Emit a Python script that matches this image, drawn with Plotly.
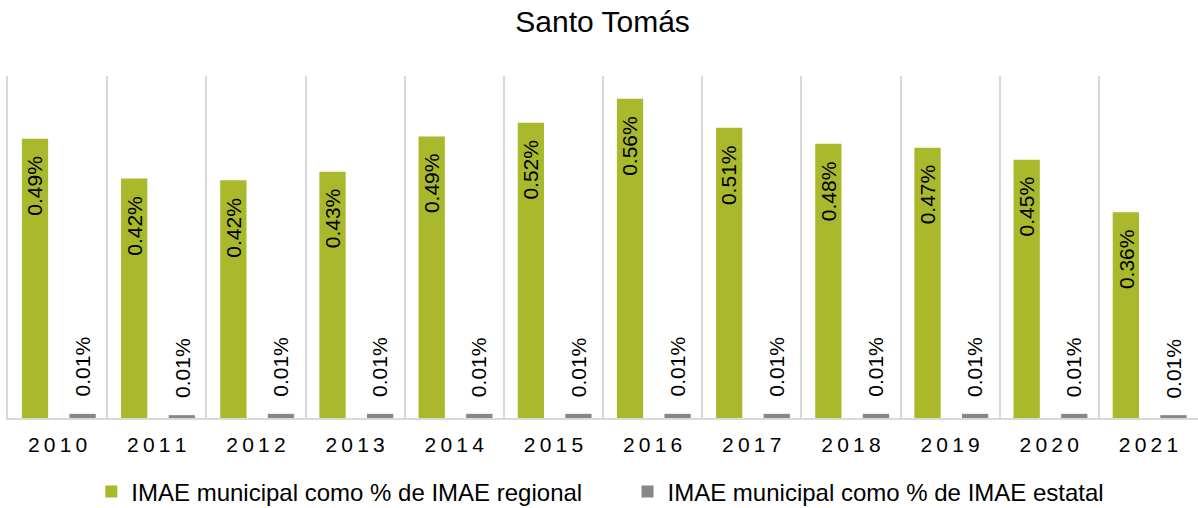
import plotly.graph_objects as go

# ---- data ----
years = ['2010', '2011', '2012', '2013', '2014', '2015',
         '2016', '2017', '2018', '2019', '2020', '2021']
regional = [0.490, 0.420, 0.417, 0.432, 0.494, 0.518,
            0.560, 0.509, 0.481, 0.474, 0.453, 0.361]
estatal = [0.0073, 0.0050, 0.0073, 0.0073, 0.0073, 0.0073,
           0.0073, 0.0073, 0.0073, 0.0073, 0.0073, 0.0050]
name_regional = 'IMAE municipal como % de IMAE regional'
name_estatal = 'IMAE municipal como % de IMAE estatal'
title_text = 'Santo Tomás'

# ---- style ----
FONT = 'Liberation Sans, Arial, sans-serif'
GREEN = '#a9b92b'
GRAY = '#878787'
GRID = '#d9d9d9'
BAR_W = 0.265
OFF_G = -0.36
OFF_E = 0.12

fig = go.Figure()
fig.add_trace(go.Bar(x=years, y=regional, name=name_regional,
                     marker=dict(color=GREEN, line=dict(width=0)),
                     width=BAR_W, offset=OFF_G, legend='legend'))
fig.add_trace(go.Bar(x=years, y=estatal, name=name_estatal,
                     marker=dict(color=GRAY, line=dict(width=0)),
                     width=BAR_W, offset=OFF_E, legend='legend2'))

annotations = []
for i, v in enumerate(regional):
    annotations.append(dict(x=i + OFF_G + BAR_W / 2, y=v, xref='x', yref='y',
                            text=f'{v:.2f}%', textangle=-90, showarrow=False,
                            yanchor='top', xanchor='center', yshift=-15,
                            font=dict(family=FONT, size=21, color='#000')))
for i, v in enumerate(estatal):
    annotations.append(dict(x=i + OFF_E + BAR_W / 2, y=v, xref='x', yref='y',
                            text=f'{v:.2f}%', textangle=-90, showarrow=False,
                            yanchor='bottom', xanchor='center', yshift=15,
                            font=dict(family=FONT, size=21, color='#000')))

fig.update_layout(
    width=1198, height=508,
    margin=dict(l=8, r=0, t=76, b=90, autoexpand=False),
    paper_bgcolor='white', plot_bgcolor='white',
    barmode='overlay',
    title=dict(text=title_text, x=0.503, xanchor='center', y=0.957, yanchor='middle',
               font=dict(family=FONT, size=30, color='#000')),
    xaxis=dict(type='category', tickson='boundaries', showgrid=True,
               gridcolor=GRID, gridwidth=1.5, ticks='',
               showline=True, linecolor=GRID, linewidth=1.5,
               tickmode='array', tickvals=years,
               ticktext=['\u2009'.join(y) for y in years],
               ticklabelstandoff=7, automargin=False,
               tickfont=dict(family=FONT, size=21, color='#000'),
               range=[-0.5, len(years) - 0.5]),
    yaxis=dict(range=[0, 0.6], showgrid=False, zeroline=False,
               showticklabels=False, ticks='', automargin=False,
               showline=True, linecolor=GRID, linewidth=1.5),
    showlegend=True,
    legend=dict(x=0.070, xanchor='left', y=-0.216, yanchor='middle',
                font=dict(family=FONT, size=24, color='#000'),
                bgcolor='rgba(0,0,0,0)'),
    legend2=dict(x=0.5206, xanchor='left', y=-0.216, yanchor='middle',
                 font=dict(family=FONT, size=24, color='#000'),
                 bgcolor='rgba(0,0,0,0)'),
    annotations=annotations,
)

fig.write_html('out.html', config={'displayModeBar': False},
               post_script="document.body.style.margin='0';")
